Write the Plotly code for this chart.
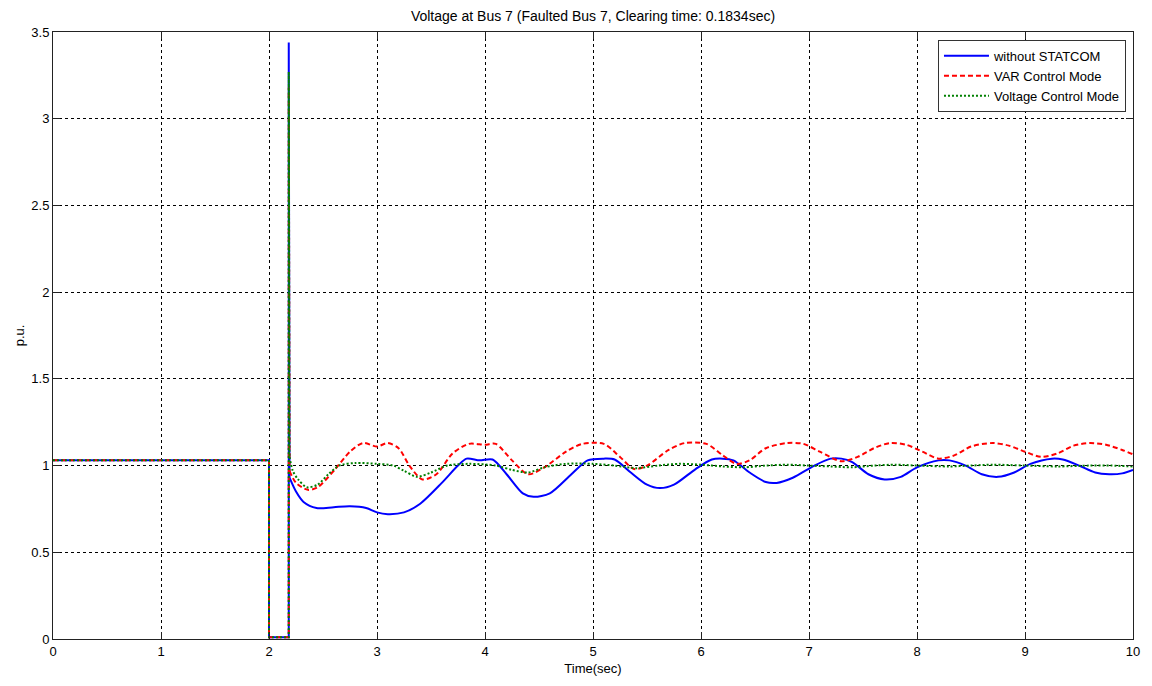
import plotly.graph_objects as go

# ---- data ----
fault_t = [0.0, 2.0, 2.0, 2.183, 2.183]
blue_fault = [1.03, 1.03, 0.01, 0.01, 3.44]
red_fault = [1.03, 1.03, 0.01, 0.01, 3.18]
green_fault = [1.03, 1.03, 0.01, 0.01, 3.27]

blue_t = [2.19, 2.25, 2.32, 2.44, 2.6, 2.75, 2.9, 3.0, 3.1, 3.25, 3.4, 3.6, 3.75, 3.83, 3.95, 4.07,
          4.2, 4.35, 4.45, 4.6, 4.8, 4.95, 5.1, 5.2, 5.35, 5.5, 5.62, 5.75, 5.95, 6.1, 6.2, 6.3,
          6.45, 6.6, 6.7, 6.85, 7.05, 7.2, 7.3, 7.4, 7.55, 7.7, 7.85, 8.0, 8.2, 8.3, 8.45, 8.6,
          8.75, 8.9, 9.05, 9.25, 9.35, 9.5, 9.65, 9.78, 9.9, 10.0]
blue_v = [0.93, 0.85, 0.79, 0.755, 0.76, 0.765, 0.755, 0.73, 0.72, 0.73, 0.78, 0.9, 1.0, 1.04, 1.03, 1.035,
          0.95, 0.84, 0.82, 0.84, 0.95, 1.03, 1.04, 1.035, 0.96, 0.89, 0.87, 0.89, 0.98, 1.035, 1.04, 1.03,
          0.96, 0.905, 0.9, 0.93, 1.0, 1.04, 1.04, 1.02, 0.95, 0.92, 0.935, 0.99, 1.03, 1.03, 1.0, 0.95,
          0.935, 0.96, 1.01, 1.04, 1.035, 1.0, 0.96, 0.95, 0.955, 0.975]

red_t = [2.19, 2.25, 2.36, 2.45, 2.6, 2.75, 2.87, 3.0, 3.1, 3.2, 3.3, 3.42, 3.55, 3.7, 3.85, 4.0,
         4.1, 4.25, 4.4, 4.55, 4.75, 4.9, 5.1, 5.25, 5.38, 5.5, 5.7, 5.85, 6.05, 6.2, 6.33, 6.45,
         6.6, 6.8, 6.95, 7.1, 7.3, 7.45, 7.6, 7.75, 7.9, 8.05, 8.2, 8.35, 8.5, 8.7, 8.85, 9.0,
         9.15, 9.3, 9.45, 9.6, 9.75, 9.9, 10.0]
red_v = [0.97, 0.9, 0.86, 0.875, 0.97, 1.08, 1.13, 1.11, 1.13, 1.1, 1.0, 0.92, 0.95, 1.07, 1.125, 1.12,
         1.125, 1.03, 0.95, 0.99, 1.08, 1.125, 1.125, 1.05, 0.98, 1.0, 1.09, 1.13, 1.125, 1.06, 1.01, 1.03,
         1.1, 1.13, 1.125, 1.08, 1.025, 1.05, 1.1, 1.13, 1.12, 1.08, 1.04, 1.06, 1.11, 1.13, 1.115, 1.08,
         1.05, 1.07, 1.115, 1.13, 1.12, 1.09, 1.065]

green_t = [2.19, 2.22, 2.27, 2.35, 2.45, 2.55, 2.65, 2.8, 3.0, 3.15, 3.25, 3.37, 3.5, 3.65, 3.85, 4.1,
           4.25, 4.4, 4.55, 4.75, 5.0, 5.2, 5.4, 5.6, 5.8, 6.0, 6.2, 6.4, 6.6, 6.8, 7.0, 7.2,
           7.4, 7.6, 7.8, 8.0, 8.3, 8.5, 8.7, 9.0, 9.3, 9.6, 9.8, 10.0]
green_v = [1.05, 0.97, 0.92, 0.875, 0.89, 0.95, 1.0, 1.015, 1.01, 1.0, 0.97, 0.935, 0.96, 1.0, 1.01, 1.0,
           0.975, 0.96, 0.99, 1.01, 1.01, 1.0, 0.985, 1.0, 1.01, 1.005, 0.995, 0.99, 1.0, 1.005, 1.0, 0.995,
           0.99, 1.0, 1.005, 1.0, 0.995, 1.0, 1.005, 1.0, 0.995, 1.0, 1.0, 0.995]

x_ticks = [0, 1, 2, 3, 4, 5, 6, 7, 8, 9, 10]
y_ticks = [0, 0.5, 1, 1.5, 2, 2.5, 3, 3.5]
y_tick_labels = ["0", "0.5", "1", "1.5", "2", "2.5", "3", "3.5"]

FONT = "Liberation Sans, Arial, sans-serif"

series = [
    ("without STATCOM", "#0000ff", "solid", blue_fault, blue_t, blue_v),
    ("VAR Control Mode", "#ff0000", "5px,3px", red_fault, red_t, red_v),
    ("Voltage Control Mode", "#008000", "2px,2px", green_fault, green_t, green_v),
]

fig = go.Figure()
for name, color, dash, fv, pt, pv in series:
    fig.add_trace(go.Scatter(
        x=fault_t + [pt[0]], y=fv + [pv[0]], mode="lines", name=name,
        legendgroup=name, showlegend=True,
        line=dict(color=color, width=2, dash=dash, shape="linear")))
    fig.add_trace(go.Scatter(
        x=pt, y=pv, mode="lines", name=name, legendgroup=name, showlegend=False,
        line=dict(color=color, width=2, dash=dash, shape="spline", smoothing=0.8)))

axis_common = dict(
    showline=True, linecolor="#222222", linewidth=1, mirror="ticks",
    ticks="inside", ticklen=7, tickcolor="#222222",
    showgrid=True, gridcolor="black", griddash="3px,3px", gridwidth=1,
    zeroline=False, automargin=False,
    tickfont=dict(family=FONT, size=13, color="black"),
)

fig.update_xaxes(range=[0, 10], tickvals=x_ticks, title=dict(text="Time(sec)", standoff=6,
                 font=dict(family=FONT, size=13, color="black")), **axis_common)
fig.update_yaxes(range=[0, 3.5], tickvals=y_ticks, ticktext=y_tick_labels,
                 title=dict(text="p.u.", standoff=3,
                            font=dict(family=FONT, size=13, color="black")),
                 **axis_common)

fig.update_layout(
    width=1144, height=678,
    margin=dict(l=45, r=19, t=24, b=47),
    paper_bgcolor="white", plot_bgcolor="white",
    title=dict(text="Voltage at Bus 7 (Faulted Bus 7, Clearing time: 0.1834sec)",
               x=0.5, xref="paper", xanchor="center", y=0.995, yanchor="top",
               font=dict(family=FONT, size=14, color="black")),
    legend=dict(x=0.9935, y=0.987, xanchor="right", yanchor="top",
                bgcolor="white", bordercolor="#333333", borderwidth=1,
                font=dict(family=FONT, size=13, color="black"),
                tracegroupgap=0, itemwidth=45),
    showlegend=True,
)

fig.write_html("out.html")
